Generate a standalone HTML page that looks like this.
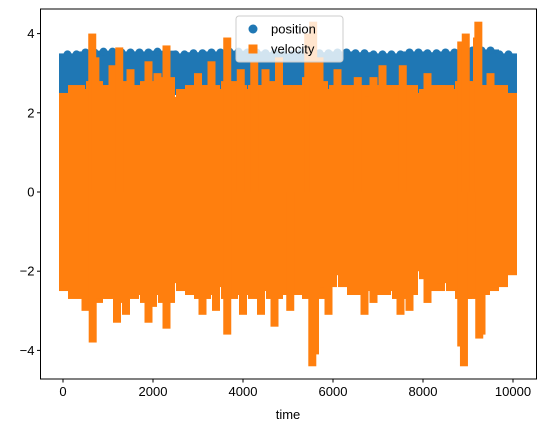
<!DOCTYPE html>
<html><head><meta charset="utf-8"><style>
body{margin:0;background:#fff}
svg{font-family:"Liberation Sans","DejaVu Sans",sans-serif;display:block}
</style></head><body>
<svg id="chart" width="546" height="432">
<g id="plot"></g>
<g id="axes"></g>
</svg>
<script>
// velocity bulk envelope per 200-time bin (max / min)
const binStarts = [0,200,400,600,800,1000,1200,1400,1600,1800,2000,2200,2400,2600,2800,3000,3200,3400,3600,3800,4000,4200,4400,4600,4800,5000,5200,5400,5600,5800,6000,6200,6400,6600,6800,7000,7200,7400,7600,7800,8000,8200,8400,8600,8800,9000,9200,9400,9600,9800,10000];
const velMax = [2.4,2.6,2.5,2.7,2.6,2.6,2.7,2.6,2.6,2.7,2.5,2.8,2.3,2.5,2.6,2.6,2.6,2.5,2.7,2.6,2.5,2.6,2.6,2.7,2.6,2.6,2.6,2.8,2.7,2.5,2.6,2.6,2.5,2.6,2.3,2.6,2.6,2.6,2.6,2.4,2.5,2.6,2.6,2.5,2.7,2.7,2.6,2.6,2.6,2.4,2.2];
const velMin = [-2.4,-2.6,-2.5,-2.7,-2.6,-2.6,-2.7,-2.6,-2.5,-2.7,-2.5,-2.7,-2.2,-2.4,-2.5,-2.6,-2.5,-2.3,-2.6,-2.5,-2.5,-2.6,-2.4,-2.6,-2.5,-2.5,-2.5,-2.6,-2.6,-2.3,-2.0,-2.3,-2.5,-2.4,-2.0,-2.5,-2.4,-2.6,-2.5,-1.9,-2.1,-2.4,-2.2,-2.4,-2.6,-2.6,-2.5,-2.4,-2.3,-2.0,-1.9];
// narrow spikes (individual extreme samples)
const upSpikeT = [650,720,1100,1250,1500,1900,2100,2300,3000,3300,3650,3950,4250,4500,4800,5450,5560,5700,6100,6550,6900,7100,7550,8100,8850,8950,9200,9230,9500];
const upSpikeV = [3.9,3.3,3.1,3.55,3.0,3.2,2.9,3.6,2.9,3.2,3.8,3.0,3.2,3.0,3.3,3.9,4.2,3.3,3.0,2.8,2.8,3.1,3.1,2.9,3.7,3.9,3.8,4.2,2.9];
const loSpikeT = [500,660,1200,1400,1900,2000,2300,3100,3400,3650,4000,4400,4700,5050,5540,5600,5900,6700,6900,7500,7700,8100,8850,8910,9250,9300];
const loSpikeV = [-2.9,-3.7,-3.2,-3.0,-3.2,-2.8,-3.35,-3.0,-2.9,-3.5,-3.0,-3.0,-3.3,-2.9,-4.3,-4.0,-3.0,-3.0,-2.7,-3.0,-2.9,-2.7,-3.8,-4.3,-3.6,-3.5];
// position envelope per 400-time bin
const posStarts = [0,400,800,1200,1600,2000,2400,2800,3200,3600,4000,4400,4800,5200,5600,6000,6400,6800,7200,7600,8000,8400,8800,9200,9600];
const posMax = [3.55,3.6,3.62,3.6,3.6,3.62,3.55,3.58,3.6,3.62,3.6,3.58,3.55,3.6,3.58,3.6,3.58,3.55,3.55,3.6,3.58,3.6,3.65,3.65,3.55];
const posMin = [2.45,2.5,2.55,2.5,2.5,2.55,2.5,2.55,2.55,2.5,2.55,2.5,2.55,2.55,2.5,2.55,2.55,2.5,2.55,2.55,2.5,2.55,2.5,2.5,2.55];
const yTicks = [-4,-2,0,2,4];
const xTicks = [0,2000,4000,6000,8000,10000];

const L=40.5,R=536.5,T=9,B=379,TMAX=10000;
const xs=t=>63+t*0.045;
const ys=v=>192-v*39.6;
const NS='http://www.w3.org/2000/svg';
function mk(tag,attrs,parent){const e=document.createElementNS(NS,tag);for(const k in attrs)e.setAttribute(k,attrs[k]);parent.appendChild(e);return e;}
const plot=document.getElementById('plot'), axes=document.getElementById('axes');
const C1='#1f77b4',C2='#ff7f0e';
// position
posStarts.forEach((t,i)=>{
  const w=Math.min(400,TMAX-t);
  const x0=xs(t), x1=xs(t+w);
  const r=mk('rect',{x:x0-4,y:ys(posMax[i])+2,width:x1-x0+8,height:ys(posMin[i])-ys(posMax[i]),fill:C1},plot);
  
  
  [0.25,0.75].forEach(f=>{
    const c=mk('circle',{cx:x0+(x1-x0)*f,cy:ys(posMax[i])+3,r:4,fill:C1},plot);
    
    
  });
});
// velocity bulk
binStarts.forEach((t,i)=>{
  const w=Math.min(200,TMAX-t);
  if(w<=0)return;
  const x0=xs(t), x1=xs(t+w);
  const r=mk('rect',{x:x0-4,y:ys(velMax[i])-4,width:x1-x0+8,height:ys(velMin[i])-ys(velMax[i])+8,fill:C2},plot);
  
  
});
upSpikeT.forEach((t,i)=>{
  const r=mk('rect',{x:xs(t)-4,y:ys(upSpikeV[i])-4,width:8,height:ys(0)-ys(upSpikeV[i])+4,fill:C2},plot);
  
  
});
loSpikeT.forEach((t,i)=>{
  const r=mk('rect',{x:xs(t)-4,y:ys(0),width:8,height:ys(loSpikeV[i])-ys(0)+4,fill:C2},plot);
  
  
});
// frame
const f=mk('rect',{x:L,y:T,width:R-L,height:B-T,fill:'none',stroke:'#000','stroke-width':1},axes);


yTicks.forEach(v=>{
  mk('line',{x1:L-3.5,x2:L,y1:ys(v),y2:ys(v),stroke:'#000'},axes);
  const tx=mk('text',{x:L-6,y:ys(v)+4.5,'text-anchor':'end','font-size':13},axes);
  tx.textContent=v<0?'\u2212'+(-v):String(v);
  
  
});
xTicks.forEach(v=>{
  mk('line',{x1:xs(v),x2:xs(v),y1:B,y2:B+3.5,stroke:'#000'},axes);
  const tx=mk('text',{x:xs(v),y:B+17,'text-anchor':'middle','font-size':13},axes);
  tx.textContent=String(v);
  
  
});
const xl=mk('text',{x:288,y:419,'text-anchor':'middle','font-size':13},axes);
xl.textContent='time';


// legend
const lg=mk('g',{},axes);


mk('rect',{x:236,y:16,width:107,height:46,rx:3,fill:'#fff','fill-opacity':0.8,stroke:'#ccc'},lg);
mk('circle',{cx:253,cy:29,r:4.5,fill:C1},lg);
const t1=mk('text',{x:271,y:33.5,'font-size':13},lg);t1.textContent='position';


mk('rect',{x:248.5,y:44.5,width:9,height:9,fill:C2},lg);
const t2=mk('text',{x:271,y:53.5,'font-size':13},lg);t2.textContent='velocity';


</script>
</body></html>
